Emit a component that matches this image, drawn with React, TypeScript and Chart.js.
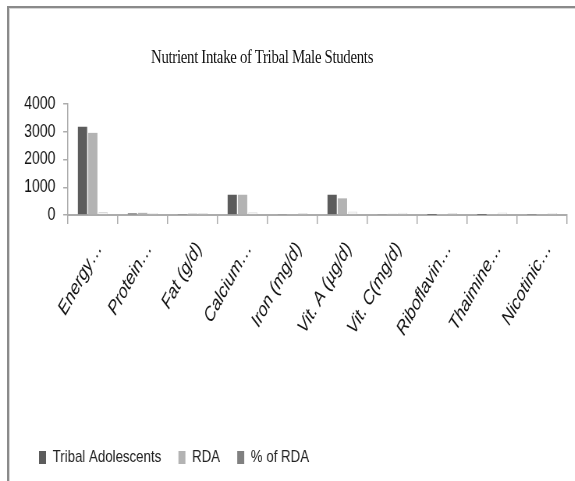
import React, { useEffect, useRef } from "react";
import { Chart, registerables } from "chart.js";

Chart.register(...registerables);

// Nutrient categories (axis labels as shown, truncated by the original sheet)
const categories = [
  "Energy…",
  "Protein…",
  "Fat (g/d)",
  "Calcium…",
  "Iron (mg/d)",
  "Vit. A (µg/d)",
  "Vit. C(mg/d)",
  "Riboflavin…",
  "Thaimine…",
  "Nicotinic…",
];

// Mean intake of tribal adolescent boys
const tribalAdolescents = [3180, 58, 36, 730, 22, 730, 32, 1.4, 1.5, 16];
// Recommended dietary allowance
const rda = [2960, 78, 50, 730, 32, 600, 40, 2.0, 1.6, 22];
// Intake as percentage of RDA
const percentOfRda = [107, 74, 72, 100, 69, 122, 80, 70, 94, 73];

const yTicks = [0, 1000, 2000, 3000, 4000];

const SCALE_X = 0.78;
const CANVAS_W = Math.round(575 / SCALE_X);
const CANVAS_H = 481;
const SANS = '"Liberation Sans", Arial, sans-serif';
const AXIS_GREY = "#acacac";

export default function App() {
  const canvasRef = useRef<HTMLCanvasElement | null>(null);

  useEffect(() => {
    const canvas = canvasRef.current;
    if (!canvas) return;

    const chart = new Chart(canvas, {
      type: "bar",
      data: {
        labels: categories,
        datasets: [
          {
            label: "Tribal Adolescents",
            data: tribalAdolescents,
            backgroundColor: "#5c5c5c",
            borderColor: "#5c5c5c",
            borderWidth: 0,
          },
          {
            label: "RDA",
            data: rda,
            backgroundColor: "#b3b3b3",
            borderColor: "#b3b3b3",
            borderWidth: 0,
          },
          {
            label: "% of RDA",
            data: percentOfRda,
            backgroundColor: "#f3f3f3",
            borderColor: "#dadada",
            borderWidth: 1,
          },
        ],
      },
      options: {
        responsive: false,
        animation: false,
        devicePixelRatio: 1,
        datasets: {
          bar: {
            categoryPercentage: 0.62,
            barPercentage: 0.9,
          },
        },
        layout: {
          padding: { left: 28, right: 10, top: 104, bottom: 5 },
        },
        plugins: {
          title: { display: false },
          tooltip: { enabled: false },
          legend: {
            display: true,
            position: "bottom",
            align: "start",
            labels: {
              boxWidth: 9,
              boxHeight: 13,
              padding: 22,
              color: "#222",
              font: { family: SANS, size: 17 },
              generateLabels: (c: Chart) => {
                const items = Chart.defaults.plugins.legend.labels.generateLabels(c);
                const swatches = ["#5c5c5c", "#b3b3b3", "#808080"];
                return items.map((it: any, i: number) => ({
                  ...it,
                  fillStyle: swatches[i],
                  strokeStyle: swatches[i],
                  lineWidth: 0,
                }));
              },
            },
          },
        },
        scales: {
          x: {
            type: "category",
            afterFit: (s: any) => {
              s.height = 212;
            },
            border: { display: true, color: AXIS_GREY, width: 2 },
            grid: {
              display: true,
              offset: true,
              drawOnChartArea: false,
              drawTicks: true,
              tickLength: 9,
              color: AXIS_GREY,
              lineWidth: 1.5,
            },
            ticks: {
              autoSkip: false,
              minRotation: 55,
              maxRotation: 55,
              padding: 14,
              labelOffset: 8,
              color: "#111",
              font: { family: SANS, size: 20, style: "italic" },
            },
          },
          y: {
            min: 0,
            max: 4000,
            afterFit: (s: any) => {
              s.width = 59;
            },
            afterBuildTicks: (s: any) => {
              s.ticks = yTicks.map((v) => ({ value: v }));
            },
            border: { display: true, color: AXIS_GREY, width: 1.5 },
            grid: {
              display: true,
              drawOnChartArea: false,
              drawTicks: true,
              tickLength: 6,
              color: AXIS_GREY,
              lineWidth: 1.5,
            },
            ticks: {
              padding: 10,
              color: "#111",
              font: { family: SANS, size: 18 },
              callback: (v: any) => String(v),
            },
          },
        },
      },
    });

    return () => chart.destroy();
  }, []);

  return (
    <div
      style={{
        position: "fixed",
        left: 0,
        top: 0,
        width: 575,
        height: 481,
        overflow: "hidden",
        background: "#fff",
      }}
    >
      {/* frame edges */}
      <div
        style={{
          position: "absolute",
          left: 7,
          top: 6,
          right: 0,
          bottom: 0,
          borderTop: "2px solid #8a8a8a",
          borderLeft: "2px solid #8a8a8a",
          boxShadow: "inset 1px 1px 0 #d6d6d6",
        }}
      />
      <div
        style={{
          position: "absolute",
          left: 0,
          top: 0,
          width: CANVAS_W,
          height: CANVAS_H,
          transform: `scaleX(${SCALE_X})`,
          transformOrigin: "0 0",
        }}
      >
        <div
          style={{
            position: "absolute",
            left: 136,
            top: 47,
            width: 400,
            textAlign: "center",
            fontFamily: '"Liberation Serif", "Times New Roman", serif',
            fontSize: 19,
            letterSpacing: "-0.4px",
            lineHeight: "19px",
            color: "#111",
            whiteSpace: "nowrap",
          }}
        >
          Nutrient Intake of Tribal Male Students
        </div>
        <canvas
          ref={canvasRef}
          width={CANVAS_W}
          height={CANVAS_H}
          style={{ position: "absolute", left: 0, top: 0, width: CANVAS_W, height: CANVAS_H }}
        />
      </div>
    </div>
  );
}
